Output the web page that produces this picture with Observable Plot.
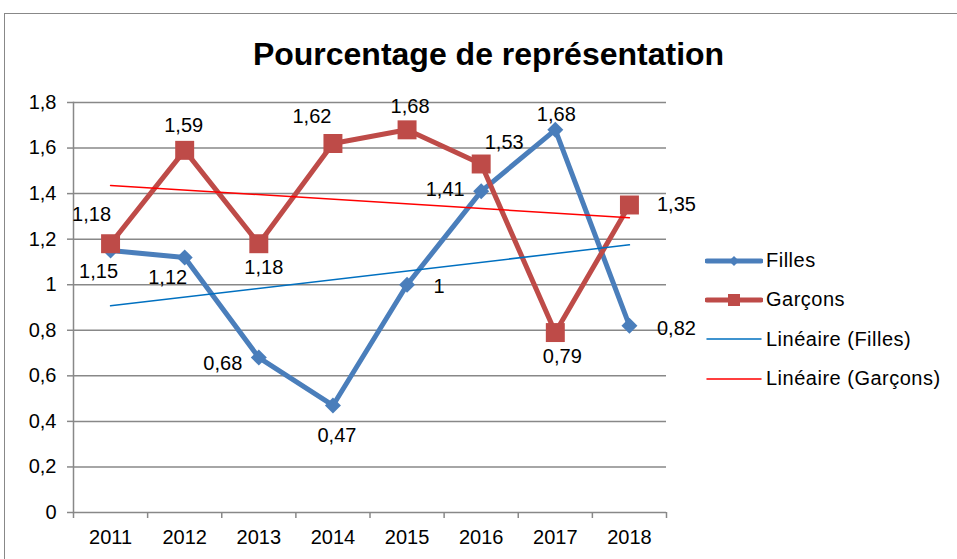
<!DOCTYPE html>
<html>
<head>
<meta charset="utf-8">
<script src="https://cdn.jsdelivr.net/npm/d3@7"></script>
<script src="https://cdn.jsdelivr.net/npm/@observablehq/plot@0.6"></script>
<style>
  body { margin: 0; background: #fff; font-family: "Liberation Sans", Arial, sans-serif; }
  #wrap { position: relative; width: 957px; height: 559px; overflow: hidden; background: #fff; }
  #border { position: absolute; left: 4px; top: 13px; width: 1000px; height: 600px; border: 1.5px solid #888; box-sizing: border-box; }
  #title { position: absolute; left: 0; top: 38px; width: 977px; text-align: center; font-weight: bold; font-size: 32px; line-height: 32px; color: #000; }
  #chart { position: absolute; left: 0; top: 80px; }
  #legend { position: absolute; left: 705px; top: 241px; font-size: 20px; letter-spacing: 0.5px; color: #000; }
  .row { display: flex; align-items: center; height: 39.3px; }
  .row svg { flex: none; margin-right: 3px; }
</style>
</head>
<body>
<div id="wrap">
  <div id="border"></div>
  <div id="title">Pourcentage de représentation</div>
  <div id="chart"></div>
  <div id="legend"></div>
</div>
<script>
// ---- data ----
const years = [2011, 2012, 2013, 2014, 2015, 2016, 2017, 2018];
const filles = [1.15, 1.12, 0.68, 0.47, 1, 1.41, 1.68, 0.82];
const garcons = [1.18, 1.59, 1.18, 1.62, 1.68, 1.53, 0.79, 1.35];
const yTicks = [0, 0.2, 0.4, 0.6, 0.8, 1, 1.2, 1.4, 1.6, 1.8];
const seriesNames = ["Filles", "Garçons"];
const trendNames = ["Linéaire (Filles)", "Linéaire (Garçons)"];

// ---- label layout (pixel offsets of each data label from its point) ----
const labelOffsetsF = [[-12, 21], [-17, 20], [-36, 6], [4, 30], [32, 2], [-36, -2], [1, -15], [47, 3]];
const labelOffsetsG = [[-19, -29], [-1, -25], [5, 24], [-21, -27], [3, -23], [23, -21], [7, 24], [47, 0]];

// ---- styles ----
const colF = "#4a7ebb", colG = "#be4b48", colTF = "#0070c0", colTG = "#ff0000", grid = "#888888";

const F = years.map((year, i) => ({year, value: filles[i]}));
const G = years.map((year, i) => ({year, value: garcons[i]}));
const fmt = v => String(+(+v).toFixed(2)).replace(".", ",");
const boundaries = [...years.map(y => y - 0.5), years[years.length - 1] + 0.5];

const labelMarks = (data, offs) => data.map((d, i) =>
  Plot.text([d], {x: "year", y: "value", text: d => fmt(d.value), dx: offs[i][0], dy: offs[i][1], fontSize: 20, fill: "#000"}));

const chart = Plot.plot({
  width: 957, height: 479,
  marginLeft: 73, marginRight: 291, marginTop: 22, marginBottom: 47,
  x: {type: "linear", domain: [boundaries[0], boundaries[boundaries.length - 1]]},
  y: {domain: [0, 1.8]},
  style: {fontFamily: "'Liberation Sans', Arial, sans-serif", fontSize: "20px", color: "#000", background: "transparent"},
  marks: [
    Plot.gridY(yTicks, {stroke: grid, strokeOpacity: 1, strokeWidth: 1.5}),
    Plot.frame({anchor: "left", stroke: grid, strokeWidth: 1.5}),
    Plot.axisY(yTicks, {tickSize: 6, tickFormat: () => "", stroke: grid, strokeWidth: 1.5, label: null}),
    Plot.axisY(yTicks, {tickSize: 0, tickPadding: 17, tickFormat: fmt, label: null, fill: "#000"}),
    Plot.axisX(boundaries, {tickSize: 6, tickFormat: () => "", stroke: grid, strokeWidth: 1.5, label: null}),
    Plot.axisX(years, {tickSize: 0, tickPadding: 17, tickFormat: d => String(d), label: null, fill: "#000"}),
    Plot.line(F, {x: "year", y: "value", stroke: colF, strokeWidth: 5, strokeLinejoin: "round"}),
    Plot.dot(F, {x: "year", y: "value", symbol: "diamond2", r: 7.2, fill: colF, stroke: null}),
    Plot.line(G, {x: "year", y: "value", stroke: colG, strokeWidth: 5, strokeLinejoin: "round"}),
    Plot.dot(G, {x: "year", y: "value", symbol: "square", r: 10.7, fill: colG, stroke: null}),
    Plot.linearRegressionY(F, {x: "year", y: "value", stroke: colTF, strokeWidth: 1.5, ci: 0}),
    Plot.linearRegressionY(G, {x: "year", y: "value", stroke: colTG, strokeWidth: 1.5, ci: 0}),
    ...labelMarks(F, labelOffsetsF),
    ...labelMarks(G, labelOffsetsG)
  ]
});
document.getElementById("chart").appendChild(chart);

// ---- legend ----
const legendItems = [
  {name: seriesNames[0], color: colF, width: 5, marker: "diamond"},
  {name: seriesNames[1], color: colG, width: 5, marker: "square"},
  {name: trendNames[0], color: colTF, width: 1.5, marker: null},
  {name: trendNames[1], color: colTG, width: 1.5, marker: null}
];
const legend = document.getElementById("legend");
for (const it of legendItems) {
  const row = document.createElement("div");
  row.className = "row";
  let m = "";
  if (it.marker === "diamond") m = `<path d="M29,5 L34,10 L29,15 L24,10 Z" fill="${it.color}"/>`;
  if (it.marker === "square") m = `<rect x="23" y="4" width="12" height="12" fill="${it.color}"/>`;
  row.innerHTML = `<svg width="58" height="20"><line x1="2" y1="10" x2="56" y2="10" stroke="${it.color}" stroke-width="${it.width}" stroke-linecap="round"/>${m}</svg><span>${it.name}</span>`;
  legend.appendChild(row);
}
</script>
</body>
</html>
